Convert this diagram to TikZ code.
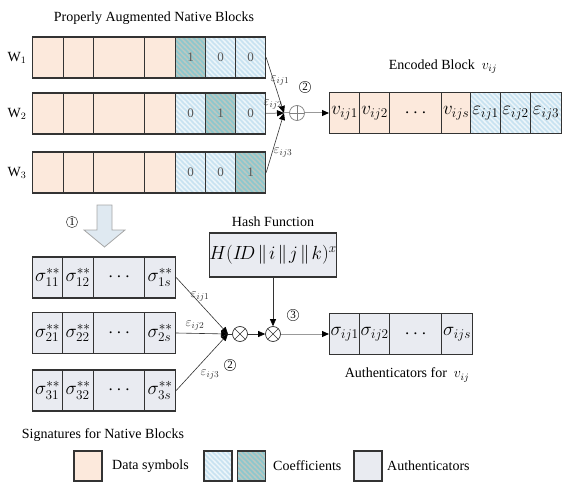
\RequirePackage{fix-cm}
\documentclass[tikz,border=0pt]{standalone}
\usepackage{fontspec}
\setmainfont{Liberation Serif}
\usetikzlibrary{arrows.meta,patterns.meta}
\definecolor{datac}{HTML}{FCE9DC}
\definecolor{coefl}{HTML}{C9E3F1}
\definecolor{coefd}{HTML}{8EC7CD}
\definecolor{authc}{HTML}{E9EBF1}
\definecolor{edge}{HTML}{333333}
\definecolor{lineg}{HTML}{999999}
\definecolor{hatchl}{HTML}{EEF6FA}
\definecolor{hatchd}{HTML}{BFC8C0}
\tikzdeclarepattern{
  name=hatchnw,
  type=uncolored,
  bounding box={(-1pt,-1pt) and (6pt,6pt)},
  tile size={(5pt,5pt)},
  code={\draw[line width=1.3pt] (-1pt,6pt) -- (6pt,-1pt);}
}
\tikzset{
  cell/.style={draw=edge, line width=1.2pt, minimum height=41pt, inner sep=0pt, font=\fontsize{19}{22}\selectfont},
  data/.style={cell, fill=datac},
  auth/.style={cell, fill=authc},
  cl/.style={cell, preaction={fill=coefl}, pattern=hatchnw, pattern color=hatchl, text=black!65, font=\fontsize{13}{15}\selectfont},
  cd/.style={cell, preaction={fill=coefd}, pattern=hatchnw, pattern color=hatchd, text=black!65, font=\fontsize{13}{15}\selectfont},
  cle/.style={cl, font=\fontsize{19}{22}\selectfont, text=black},
  title/.style={font=\fontsize{14}{16}\selectfont, inner sep=0pt},
  small/.style={font=\fontsize{13}{15}\selectfont, inner sep=0pt, text=black!80},
  num/.style={circle, draw=edge, line width=0.5pt, inner sep=0.8pt, font=\fontsize{11}{12}\selectfont},
  opcircle/.style={circle, draw=edge, line width=0.7pt, minimum size=15pt, inner sep=0pt, fill=white},
  opplus/.style={opcircle, draw=gray, path picture={\draw[gray, line width=0.6pt] (path picture bounding box.north) -- (path picture bounding box.south) (path picture bounding box.west) -- (path picture bounding box.east);}},
  optimes/.style={opcircle, path picture={\draw[edge, line width=0.6pt] (path picture bounding box.north west) -- (path picture bounding box.south east) (path picture bounding box.north east) -- (path picture bounding box.south west);}},
  conn/.style={draw=edge, line width=0.6pt},
  conng/.style={draw=lineg, line width=1pt},
  tip/.style={-{Triangle[length=7pt,width=6pt,color=black]}},
  bigarrow/.style={draw=gray!70, fill=authc!70!coefl, line width=0.8pt},
  swatch/.style={draw=edge, line width=1.2pt, minimum width=28pt, minimum height=30pt, inner sep=0pt},
}
\begin{document}
\begin{tikzpicture}[x=1pt, y=-1pt]
\useasboundingbox (0,0) rectangle (565,492);

% ---- top: augmented native blocks
\node[title] (t1) at (154,18) {Properly Augmented Native Blocks};
\foreach \r/\y in {1/57.5,2/113.5,3/172.5} {
  \node[data, anchor=west, minimum width=31pt] (w\r a) at (32,\y) {};
  \node[data, anchor=west, minimum width=30pt] (w\r b) at (63,\y) {};
  \node[data, anchor=west, minimum width=51pt] (w\r c) at (93,\y) {};
  \node[data, anchor=west, minimum width=31pt] (w\r d) at (144,\y) {};
  \node[title] (lw\r) at (17,\y) {W$_{\r}$};
}
\node[cd, anchor=west, minimum width=30pt] (w1e) at (175,57.5) {1};
\node[cl, anchor=west, minimum width=30pt] (w1f) at (205,57.5) {0};
\node[cl, anchor=west, minimum width=30pt] (w1g) at (235,57.5) {0};
\node[cl, anchor=west, minimum width=30pt] (w2e) at (175,113.5) {0};
\node[cd, anchor=west, minimum width=30pt] (w2f) at (205,113.5) {1};
\node[cl, anchor=west, minimum width=30pt] (w2g) at (235,113.5) {0};
\node[cl, anchor=west, minimum width=30pt] (w3e) at (175,172.5) {0};
\node[cl, anchor=west, minimum width=30pt] (w3f) at (205,172.5) {0};
\node[cd, anchor=west, minimum width=30pt] (w3g) at (235,172.5) {1};

% merge 1
\coordinate (m1) at (284,113);
\node[opplus] (op1) at (297,113) {};
\draw[conn, tip] (w1g.east) -- (m1);
\draw[conng, tip] (w2g.east) -- (m1);
\draw[conn, tip] (w3g.east) -- (m1);
\draw[conng] (m1) -- (op1);
\node[small] (ea1) at (280,81) {$\varepsilon_{ij1}$};
\node[small] (ea2) at (273,105) {$\varepsilon_{ij2}$};
\node[small] (ea3) at (283,153) {$\varepsilon_{ij3}$};
\node[num] (n2a) at (305,87) {2};

% encoded block
\node[title] (t2) at (443,67) {Encoded Block \ $v_{ij}$};
\node[data, anchor=west, minimum width=30pt] (e1) at (329,113) {$v_{ij1}$};
\node[data, anchor=west, minimum width=30pt] (e2) at (359,113) {$v_{ij2}$};
\node[data, anchor=west, minimum width=52pt] (e3) at (389,113) {$\cdots$};
\node[data, anchor=west, minimum width=29pt] (e4) at (441,113) {$v_{ijs}$};
\node[cle, anchor=west, minimum width=30pt] (e5) at (470,113) {$\varepsilon_{ij1}$};
\node[cle, anchor=west, minimum width=30pt] (e6) at (500,113) {$\varepsilon_{ij2}$};
\node[cle, anchor=west, minimum width=31pt] (e7) at (530,113) {$\varepsilon_{ij3}$};
\draw[conng, tip] (op1) -- (e1.west);

% big down arrow
\draw[bigarrow] (97,205) -- (112,205) -- (112,230) -- (125,230) -- (104.5,247) -- (84,230) -- (97,230) -- cycle;
\node[num] (n1) at (72,222) {1};

% signatures
\foreach \r/\y in {1/277.5,2/333,3/390.5} {
  \node[auth, anchor=west, minimum width=30pt] (s\r a) at (32,\y) {$\sigma^{**}_{\r1}$};
  \node[auth, anchor=west, minimum width=31pt] (s\r b) at (62,\y) {$\sigma^{**}_{\r2}$};
  \node[auth, anchor=west, minimum width=51pt] (s\r c) at (93,\y) {$\cdots$};
  \node[auth, anchor=west, minimum width=31pt] (s\r d) at (144,\y) {$\sigma^{**}_{\r s}$};
}
\node[title] (t3) at (103,435) {Signatures for Native Blocks};

% merge 2
\coordinate (m2) at (228,334);
\node[optimes] (ox1) at (240,334) {};
\node[optimes] (ox2) at (273,334) {};
\draw[conn, tip] (s1d.east) -- (m2);
\draw[conn, tip] (s2d.east) -- (m2);
\draw[conn, tip] (s3d.east) -- (m2);
\draw[conn] (m2) -- (ox1);
\draw[conn, tip] (ox1) -- (ox2);
\node[small] (eb1) at (200,297) {$\varepsilon_{ij1}$};
\node[small] (eb2) at (195,326) {$\varepsilon_{ij2}$};
\node[small] (eb3) at (210,375) {$\varepsilon_{ij3}$};
\node[num] (n2b) at (230,365) {2};
\node[num] (n3) at (293,315) {3};

% hash function
\node[title] (t4) at (273,222) {Hash Function};
\node[auth, minimum width=122pt, minimum height=44pt] (hash) at (273,255) {$H(I\!D\mkern2mu\|\mkern2mu i\mkern2mu\|\mkern2mu j\mkern2mu\|\mkern2mu k)^{x}$};
\draw[conn, tip] (hash.south) -- (ox2.north);

% authenticators
\node[auth, anchor=west, minimum width=30pt] (a1) at (329,334) {$\sigma_{ij1}$};
\node[auth, anchor=west, minimum width=30pt] (a2) at (359,334) {$\sigma_{ij2}$};
\node[auth, anchor=west, minimum width=52pt] (a3) at (389,334) {$\cdots$};
\node[auth, anchor=west, minimum width=31pt] (a4) at (441,334) {$\sigma_{ijs}$};
\draw[conng, tip] (ox2) -- (a1.west);
\node[title] (t5) at (407,375) {Authenticators for \ $v_{ij}$};

% legend
\node[swatch, fill=datac] (lg1) at (88,466) {};
\node[title, anchor=west] (lt1) at (112,466) {Data symbols};
\node[swatch, preaction={fill=coefl}, pattern=hatchnw, pattern color=hatchl] (lg2) at (218,466) {};
\node[swatch, preaction={fill=coefd}, pattern=hatchnw, pattern color=hatchd] (lg3) at (251.5,466) {};
\node[title, anchor=west] (lt2) at (273,466) {Coefficients};
\node[swatch, fill=authc] (lg4) at (368,466) {};
\node[title, anchor=west] (lt3) at (387,466) {Authenticators};
\end{tikzpicture}
\end{document}
